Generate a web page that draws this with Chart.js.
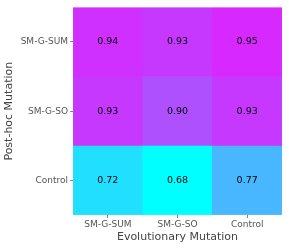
<!DOCTYPE html>
<html><head><meta charset="utf-8">
<script src="https://cdn.jsdelivr.net/npm/chart.js@4/dist/chart.umd.min.js"></script>
<style>html,body{margin:0;padding:0;background:#fff}#wrap{width:289px;height:249px}</style>
</head><body><div id="wrap"><canvas id="c" width="289" height="249"></canvas></div>
<script>
const xLabels = ['SM-G-SUM', 'SM-G-SO', 'Control'];
const yLabels = ['Control', 'SM-G-SO', 'SM-G-SUM']; // bottom to top
const rowControl = [0.72, 0.68, 0.77];
const rowSMGSO = [0.93, 0.90, 0.93];
const rowSMGSUM = [0.94, 0.93, 0.95];
const rows = [rowControl, rowSMGSO, rowSMGSUM];

const vmin = 0.68, vmax = 1.0;
function cool(v) {
  let t = Math.max(0, Math.min(1, (v - vmin) / (vmax - vmin)));
  return `rgb(${Math.round(255 * t)},${Math.round(255 * (1 - t))},255)`;
}

const datasets = rows.map((vals, r) => ({
  label: yLabels[r],
  data: vals.map(() => [r, r + 1]),
  values: vals,
  backgroundColor: vals.map(cool),
  borderColor: vals.map(cool),
  borderWidth: 0.5,
  borderSkipped: false,
  barPercentage: 1,
  categoryPercentage: 1,
  grouped: false
}));

const textPlugin = {
  id: 'cellText',
  afterDatasetsDraw(chart) {
    const ctx = chart.ctx;
    ctx.save();
    ctx.fillStyle = '#000';
    ctx.font = '9.5px "DejaVu Sans"';
    ctx.textAlign = 'center';
    ctx.textBaseline = 'middle';
    chart.data.datasets.forEach((ds, i) => {
      chart.getDatasetMeta(i).data.forEach((el, j) => {
        ctx.fillText(ds.values[j].toFixed(2), el.x, (el.y + el.base) / 2);
      });
    });
    ctx.restore();
  }
};

new Chart(document.getElementById('c'), {
  type: 'bar',
  data: { labels: xLabels, datasets },
  plugins: [textPlugin],
  options: {
    responsive: false,
    animation: false,
    layout: { padding: { top: 7, right: 7, left: 3, bottom: 5 } },
    plugins: { legend: { display: false }, tooltip: { enabled: false } },
    scales: {
      x: {
        offset: true,
        grid: { display: true, drawOnChartArea: false, drawTicks: true, tickLength: 3, color: '#888', offset: false },
        border: { display: false },
        ticks: { color: '#555', font: { family: 'DejaVu Sans', size: 9 }, padding: 1, maxRotation: 0 },
        title: { display: true, text: 'Evolutionary Mutation', color: '#444', font: { family: 'DejaVu Sans', size: 11 }, padding: { top: 0, bottom: 0 } }
      },
      y: {
        type: 'linear', min: 0, max: 3,
        afterBuildTicks(scale) { scale.ticks = [0.5, 1.5, 2.5].map(v => ({ value: v })); },
        grid: { display: true, drawOnChartArea: false, drawTicks: true, tickLength: 3, color: '#888' },
        border: { display: false },
        ticks: { color: '#555', font: { family: 'DejaVu Sans', size: 9 }, padding: 2,
          callback: (v) => yLabels[Math.floor(v)] },
        title: { display: true, text: 'Post-hoc Mutation', color: '#444', font: { family: 'DejaVu Sans', size: 11 }, padding: { top: 0, bottom: 2 } },
        afterFit(scale) { scale.width = 70; }
      }
    }
  }
});
</script>
</body></html>
